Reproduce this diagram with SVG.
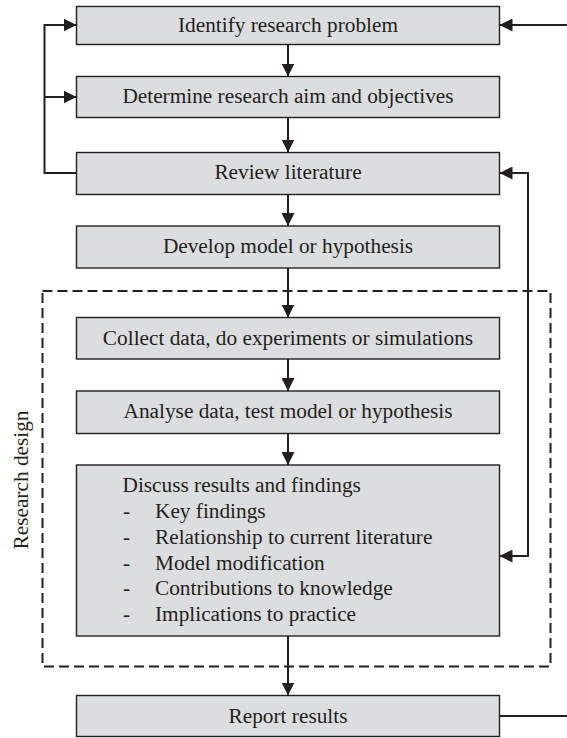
<svg xmlns="http://www.w3.org/2000/svg" width="567" height="738" viewBox="0 0 567 738">
  <style>
    .box { fill: #dcdddf; stroke: #231f20; stroke-width: 1.4; }
    .lbl { font-family: "Liberation Serif", "Times New Roman", serif; font-size: 21.3px; fill: #231f20; }
    .mid { text-anchor: middle; }
    .wire { fill: none; stroke: #231f20; stroke-width: 2; }
    .frame { fill: none; stroke: #231f20; stroke-width: 2; stroke-dasharray: 10 5; }
  </style>
  <defs>
    <marker id="head" viewBox="0 0 13 13" refX="13" refY="6.5" markerWidth="13" markerHeight="13" markerUnits="userSpaceOnUse" orient="auto-start-reverse">
      <path d="M0,0 L13,6.5 L0,13 Z" fill="#231f20"/>
    </marker>
  </defs>
  <rect width="567" height="738" fill="#ffffff"/>

  <!-- research design frame -->
  <g id="research-design">
    <rect class="frame" x="42.5" y="291" width="508" height="375.5"/>
    <text class="lbl mid" x="28" y="480" transform="rotate(-90 28 480)">Research design</text>
  </g>

  <g id="identify">
    <rect class="box" x="76.5" y="6.5" width="423" height="38"/>
    <text class="lbl mid" x="288" y="31.5">Identify research problem</text>
  </g>
  <g id="determine">
    <rect class="box" x="76.5" y="76.5" width="423" height="41"/>
    <text class="lbl mid" x="288" y="103">Determine research aim and objectives</text>
  </g>
  <g id="review">
    <rect class="box" x="76.5" y="152.5" width="423" height="42"/>
    <text class="lbl mid" x="288" y="179">Review literature</text>
  </g>
  <g id="develop">
    <rect class="box" x="76.5" y="226" width="423" height="42"/>
    <text class="lbl mid" x="288" y="253">Develop model or hypothesis</text>
  </g>
  <g id="collect">
    <rect class="box" x="76.5" y="317.5" width="423" height="41.5"/>
    <text class="lbl mid" x="288" y="344.5">Collect data, do experiments or simulations</text>
  </g>
  <g id="analyse">
    <rect class="box" x="76.5" y="391" width="423" height="42.5"/>
    <text class="lbl mid" x="288" y="418">Analyse data, test model or hypothesis</text>
  </g>
  <g id="discuss">
    <rect class="box" x="76.5" y="465" width="423" height="171"/>
    <text class="lbl" x="122.5" y="492">Discuss results and findings</text>
    <text class="lbl" x="123" y="518">-</text><text class="lbl" x="155" y="518">Key findings</text>
    <text class="lbl" x="123" y="543.5">-</text><text class="lbl" x="155" y="543.5">Relationship to current literature</text>
    <text class="lbl" x="123" y="569.5">-</text><text class="lbl" x="155" y="569.5">Model modification</text>
    <text class="lbl" x="123" y="595">-</text><text class="lbl" x="155" y="595">Contributions to knowledge</text>
    <text class="lbl" x="123" y="621">-</text><text class="lbl" x="155" y="621">Implications to practice</text>
  </g>
  <g id="report">
    <rect class="box" x="76.5" y="695.5" width="423" height="41"/>
    <text class="lbl mid" x="288" y="722.5">Report results</text>
  </g>

  <g id="connectors">
    <path class="wire" d="M288,44.5 V76.5" marker-end="url(#head)"/>
    <path class="wire" d="M288,117.5 V152.5" marker-end="url(#head)"/>
    <path class="wire" d="M288,194.5 V226" marker-end="url(#head)"/>
    <path class="wire" d="M288,268 V317.5" marker-end="url(#head)"/>
    <path class="wire" d="M288,359 V391" marker-end="url(#head)"/>
    <path class="wire" d="M288,433.5 V465" marker-end="url(#head)"/>
    <path class="wire" d="M288,636 V695.5" marker-end="url(#head)"/>
    <!-- feedback from literature review back to the top -->
    <path class="wire" d="M76.5,173 H44.5 V25 H76.5" marker-end="url(#head)"/>
    <path class="wire" d="M44.5,97 H76.5" marker-end="url(#head)"/>
    <!-- loop between discussion and literature review -->
    <path class="wire" d="M499.5,173 H528 V556 H499.5" marker-start="url(#head)" marker-end="url(#head)"/>
    <!-- report feeds back into the problem -->
    <path class="wire" d="M499.5,716 H567"/>
    <path class="wire" d="M567,25 H499.5" marker-end="url(#head)"/>
  </g>
</svg>
